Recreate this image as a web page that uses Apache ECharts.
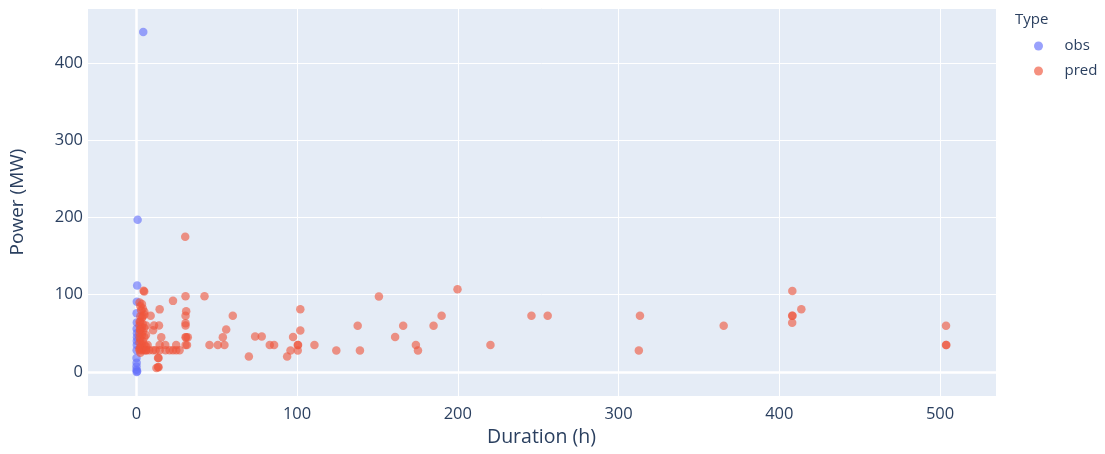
<!DOCTYPE html>
<html>
<head>
<meta charset="utf-8">
<script src="https://cdn.jsdelivr.net/npm/echarts@6/dist/echarts.min.js"></script>
<style>
html,body{margin:0;padding:0;background:#fff;}
#chart{width:1105px;height:454px;}
</style>
</head>
<body>
<div id="chart"></div>
<script>
// ---- data ----
const seriesNames = ['obs', 'pred'];
const obsPoints = [
  [4.3, 440], [0.8, 197], [0.5, 112], [0.3, 91], [0.2, 76], [0.3, 64],
  [0.2, 56], [0.4, 45], [0.3, 35], [0.2, 28], [0.1, 18], [0.2, 12],
  [0.1, 7], [0.1, 3], [0.2, 0], [0.5, 1], [0.4, 50], [0.3, 40]
];
const predPoints = [
  [2, 90], [2.5, 85], [3, 80], [3.5, 88], [4, 82], [5, 78], [2.5, 72], [3.5, 70],
  [5, 74], [2.5, 65], [4, 62], [2, 60], [3.5, 58], [5, 57], [2.5, 55], [4, 52],
  [2, 50], [3.5, 48], [5, 45], [2.5, 42], [4, 40], [2, 38], [3.5, 35], [5, 35],
  [2.5, 32], [4, 30], [2, 28], [3.5, 28], [5, 28], [6, 28], [2.5, 25], [2, 30],
  [2, 45], [2.2, 55], [2, 65], [6, 33], [7, 35], [4.5, 105], [4.9, 104],
  [4, 72], [6, 60], [6, 48],
  [14.5, 81], [22.8, 92], [30.6, 98], [42.4, 98], [30.4, 175],
  [8.9, 72.6], [31, 78.7], [30.6, 72.6], [30.6, 63], [30.6, 60],
  [14.1, 60], [11, 60], [10.4, 54], [15.5, 45], [30.6, 45], [31, 45], [32, 45],
  [30.6, 35], [31.5, 35],
  [53.8, 45], [55.9, 55], [60, 72.6], [45.5, 35], [50.7, 35], [54.8, 35],
  [6.2, 28], [8, 28], [10.4, 28], [12, 28], [14.5, 28], [18.2, 28], [20.7, 28],
  [22.8, 28], [24.8, 28], [26.9, 28],
  [14.5, 35], [18, 35], [24.8, 35],
  [13.5, 18], [13.8, 18], [13.5, 6.5], [13.8, 6], [12.5, 5],
  [70, 20], [73.9, 46], [78, 46], [83, 35], [85.7, 35],
  [102, 81.3], [102, 53.7], [97.5, 45.4], [95.9, 27.7], [93.8, 20], [100.4, 35],
  [100.6, 35], [100.4, 27.7], [110.8, 35], [124.4, 27.7], [137.7, 59.7],
  [139.1, 27.7], [150.9, 97.8], [161, 45.4], [166, 59.7], [173.9, 35],
  [175.2, 27.7], [184.9, 59.7], [189.9, 72.6], [199.8, 106.9], [220.3, 35],
  [245.8, 72.6], [255.9, 72.6], [313.3, 72.6], [312.6, 27.7], [365.4, 59.7],
  [408.1, 104.7], [413.7, 81.3], [408, 72.6], [408.2, 72.6], [408, 63.6],
  [503.7, 59.7], [503.7, 35], [503.9, 35]
];
const xRange = [-30.7, 534.8];
const yRange = [-31.1, 471];
const xTitle = 'Duration (h)';
const yTitle = 'Power (MW)';
const legendTitle = 'Type';

// ---- chart ----
const FONT = '"Open Sans", Verdana, Arial, sans-serif';
const TXT = '#2a3f5f';
const chart = echarts.init(document.getElementById('chart'), null, {renderer: 'canvas'});
const fmt = v => (Math.abs(v % 100) < 1e-6 ? String(v) : '');

chart.setOption({
  animation: false,
  backgroundColor: '#fff',
  textStyle: {fontFamily: FONT},
  grid: {
    left: 86, right: 109, top: 8, bottom: 58,
    show: true, backgroundColor: '#E5ECF6', borderWidth: 0,
    containLabel: false
  },
  graphic: [{
    type: 'text', left: 1015, top: 12,
    style: {text: legendTitle, fontSize: 15, fill: TXT, fontFamily: FONT}
  }],
  legend: {
    data: seriesNames,
    orient: 'vertical',
    left: 1029, top: 32,
    itemWidth: 12, itemHeight: 9, itemGap: 7,
    icon: 'circle',
    itemStyle: {opacity: 0.65},
    textStyle: {fontSize: 15, color: TXT, fontFamily: FONT, padding: [0, 0, 0, 15], lineHeight: 18}
  },
  xAxis: {
    type: 'value', min: xRange[0], max: xRange[1], splitNumber: 5,
    name: xTitle, nameLocation: 'middle', nameGap: 31,
    nameTextStyle: {fontSize: 19.5, color: TXT, fontFamily: FONT},
    axisLine: {show: false}, axisTick: {show: false},
    axisLabel: {fontSize: 16.5, color: TXT, margin: 10, formatter: fmt, fontFamily: FONT},
    splitLine: {show: true, lineStyle: {color: '#fff', width: 1}}
  },
  yAxis: {
    type: 'value', min: yRange[0], max: yRange[1], splitNumber: 5,
    name: yTitle, nameLocation: 'middle', nameGap: 60, nameRotate: 90,
    nameTextStyle: {fontSize: 19, color: TXT, fontFamily: FONT},
    axisLine: {show: false}, axisTick: {show: false},
    axisLabel: {fontSize: 16.5, color: TXT, margin: 4, formatter: fmt, fontFamily: FONT},
    splitLine: {show: true, lineStyle: {color: '#fff', width: 1}}
  },
  series: [
    {
      name: 'zeroLines', type: 'line', data: [], silent: true,
      markLine: {
        silent: true, symbol: 'none', label: {show: false},
        lineStyle: {color: '#fff', width: 2.5, type: 'solid'},
        data: [{xAxis: 0}, {yAxis: 0}]
      }
    },
    {
      name: 'obs', type: 'scatter', data: obsPoints, z: 6,
      symbolSize: 8.5, itemStyle: {color: '#636EFA', opacity: 0.62}
    },
    {
      name: 'pred', type: 'scatter', data: predPoints, z: 7,
      symbolSize: 8.5, itemStyle: {color: '#EF553B', opacity: 0.62}
    }
  ]
});
</script>
</body>
</html>
